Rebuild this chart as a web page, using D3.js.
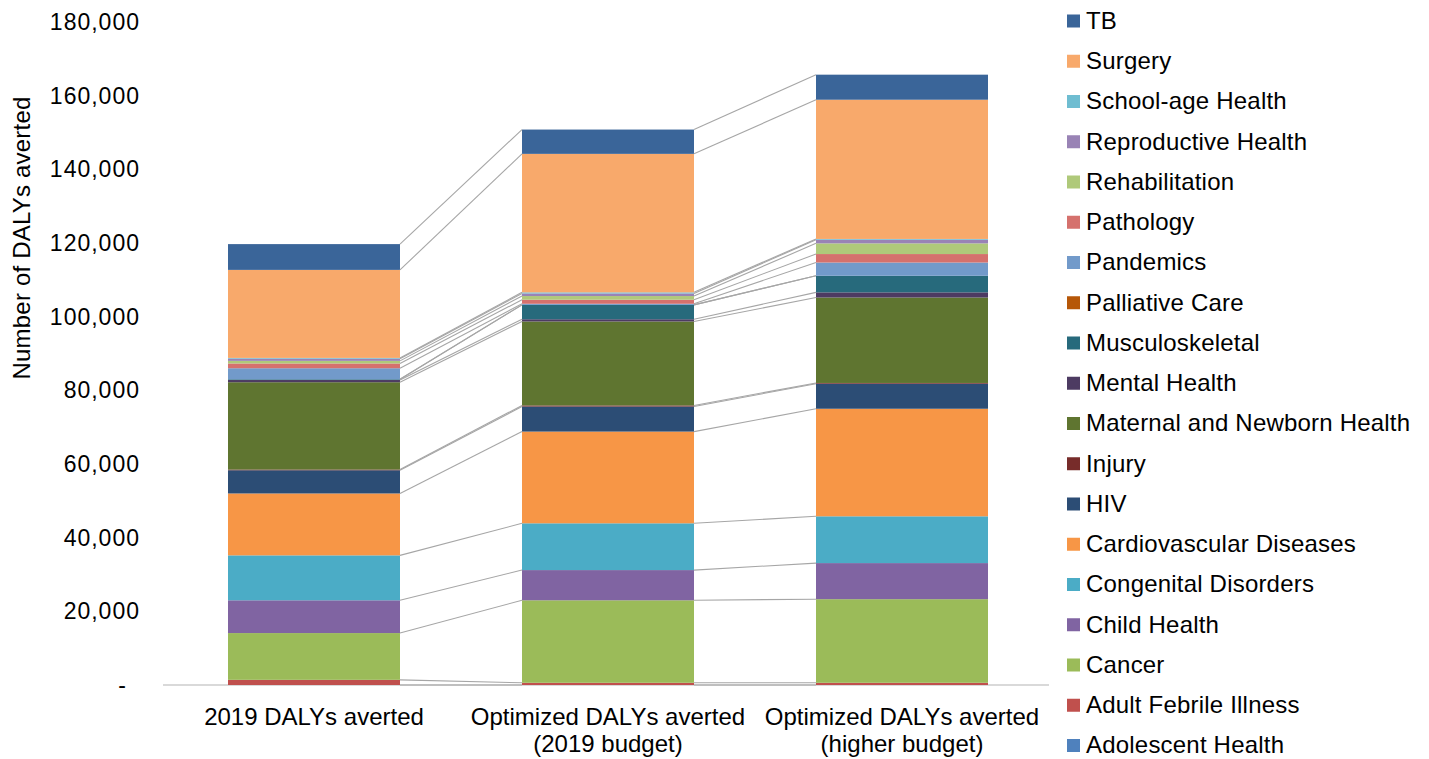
<!DOCTYPE html>
<html>
<head>
<meta charset="utf-8">
<script src="https://cdn.jsdelivr.net/npm/d3@7"></script>
<style>
  html, body { margin: 0; padding: 0; background: #fff; }
  svg { display: block; font-family: "Liberation Sans", Arial, sans-serif; }
</style>
</head>
<body>
<svg id="chart" width="1429" height="759"></svg>
<script>
// Scenarios shown as stacked columns (each label may wrap to two lines)
const categories = ["2019 DALYs averted", "Optimized DALYs averted (2019 budget)", "Optimized DALYs averted (higher budget)"];
const categoryLines = [
  ["2019 DALYs averted"],
  ["Optimized DALYs averted", "(2019 budget)"],
  ["Optimized DALYs averted", "(higher budget)"]
];

// Health areas, bottom of the stack first
const seriesNames = [
  "Adolescent Health", "Adult Febrile Illness", "Cancer", "Child Health",
  "Congenital Disorders", "Cardiovascular Diseases", "HIV", "Injury",
  "Maternal and Newborn Health", "Mental Health", "Musculoskeletal",
  "Palliative Care", "Pandemics", "Pathology", "Rehabilitation",
  "Reproductive Health", "School-age Health", "Surgery", "TB"
];

const seriesColors = [
  "#4f81bd", "#c0504d", "#9bbb59", "#8064a2",
  "#4bacc6", "#f79646", "#2c4d75", "#772c2a",
  "#5f7530", "#4d3b62", "#276a7c",
  "#b65708", "#729aca", "#d5716d", "#afc97a",
  "#9983b5", "#6fbdd1", "#f8a96b", "#3a6599"
];

// DALYs averted per health area, in seriesNames order
const values2019 =            [0, 1400, 12700, 8900, 12200, 16800, 6300, 200, 23700, 600, 200, 0, 3000, 1300, 700, 600, 200, 23900, 7000];
const valuesOptimized2019 =   [0,  600, 22400, 8200, 12700, 24900, 6800, 300, 22800, 600, 3900, 0, 300, 1100, 1000, 700, 300, 37600, 6600];
const valuesOptimizedHigher = [0,  600, 22700, 9800, 12700, 29200, 6800, 200, 23200, 1400, 4500, 0, 3600, 2300, 2900, 1000, 200, 37800, 6800];

const yTicks = [0, 20000, 40000, 60000, 80000, 100000, 120000, 140000, 160000, 180000];

const valueSets = [values2019, valuesOptimized2019, valuesOptimizedHigher];
const rows = categories.map((c, i) => {
  const row = { category: c };
  seriesNames.forEach((s, j) => { row[s] = valueSets[i][j]; });
  return row;
});

const svg = d3.select("#chart");

const x = d3.scaleBand()
  .domain(categories)
  .range([167, 1049])
  .paddingInner(0.415)
  .paddingOuter(0.2075);

const y = d3.scaleLinear()
  .domain([0, 180000])
  .range([685, 22]);

const stack = d3.stack().keys(seriesNames);
const layers = stack(rows);

const color = d3.scaleOrdinal().domain(seriesNames).range(seriesColors);

// Category axis baseline
svg.append("line")
  .attr("x1", 163).attr("x2", 1049)
  .attr("y1", y(0)).attr("y2", y(0))
  .attr("stroke", "#cccccc").attr("stroke-width", 1.5);

// Stacked segments
svg.append("g").selectAll("g")
  .data(layers)
  .join("g")
  .attr("fill", d => color(d.key))
  .selectAll("rect")
  .data(d => d)
  .join("rect")
  .attr("x", d => x(d.data.category))
  .attr("width", x.bandwidth())
  .attr("y", d => y(d[1]))
  .attr("height", d => y(d[0]) - y(d[1]));

// Series lines joining the top of each segment between neighbouring columns
const seriesLines = svg.append("g")
  .attr("stroke", "#a6a6a6")
  .attr("stroke-width", 1.1)
  .attr("fill", "none");
layers.forEach(layer => {
  for (let i = 0; i < layer.length - 1; i++) {
    const a = layer[i], b = layer[i + 1];
    seriesLines.append("line")
      .attr("x1", x(a.data.category) + x.bandwidth())
      .attr("y1", y(a[1]))
      .attr("x2", x(b.data.category))
      .attr("y2", y(b[1]));
  }
});

// Value axis (labels only)
const yAxis = d3.axisLeft(y)
  .tickValues(yTicks)
  .tickSize(0)
  .tickPadding(0)
  .tickFormat(d => d === 0 ? "-" : d3.format(",")(d));

const yAxisG = svg.append("g")
  .attr("transform", "translate(140,0)")
  .call(yAxis);
yAxisG.select(".domain").remove();
yAxisG.selectAll("text")
  .attr("font-size", 23)
  .attr("font-family", "'Liberation Sans', Arial, sans-serif")
  .attr("fill", "#000")
  .attr("letter-spacing", 1)
  .attr("dx", d => d === 0 ? -13 : 0);

// Value axis title
svg.append("text")
  .attr("transform", "translate(30,238) rotate(-90)")
  .attr("text-anchor", "middle")
  .attr("font-size", 24)
  .attr("letter-spacing", 0.2)
  .attr("fill", "#000")
  .text("Number of DALYs averted");

// Category labels
const catLabels = svg.append("g");
categories.forEach((c, i) => {
  const t = catLabels.append("text")
    .attr("text-anchor", "middle")
    .attr("font-size", 24)
    .attr("fill", "#000");
  categoryLines[i].forEach((line, k) => {
    t.append("tspan")
      .attr("x", x(c) + x.bandwidth() / 2)
      .attr("y", 725 + k * 27)
      .text(line);
  });
});

// Legend, top of the stack listed first
const legendItems = seriesNames.slice().reverse();
const legend = svg.append("g");
legendItems.forEach((name, i) => {
  const cy = 20.5 + i * 40.25;
  legend.append("rect")
    .attr("x", 1067).attr("y", cy - 6)
    .attr("width", 13).attr("height", 13)
    .attr("fill", color(name));
  legend.append("text")
    .attr("x", 1086).attr("y", cy)
    .attr("dy", "0.35em")
    .attr("font-size", 24)
    .attr("letter-spacing", 0.2)
    .attr("fill", "#000")
    .text(name);
});
</script>
</body>
</html>
